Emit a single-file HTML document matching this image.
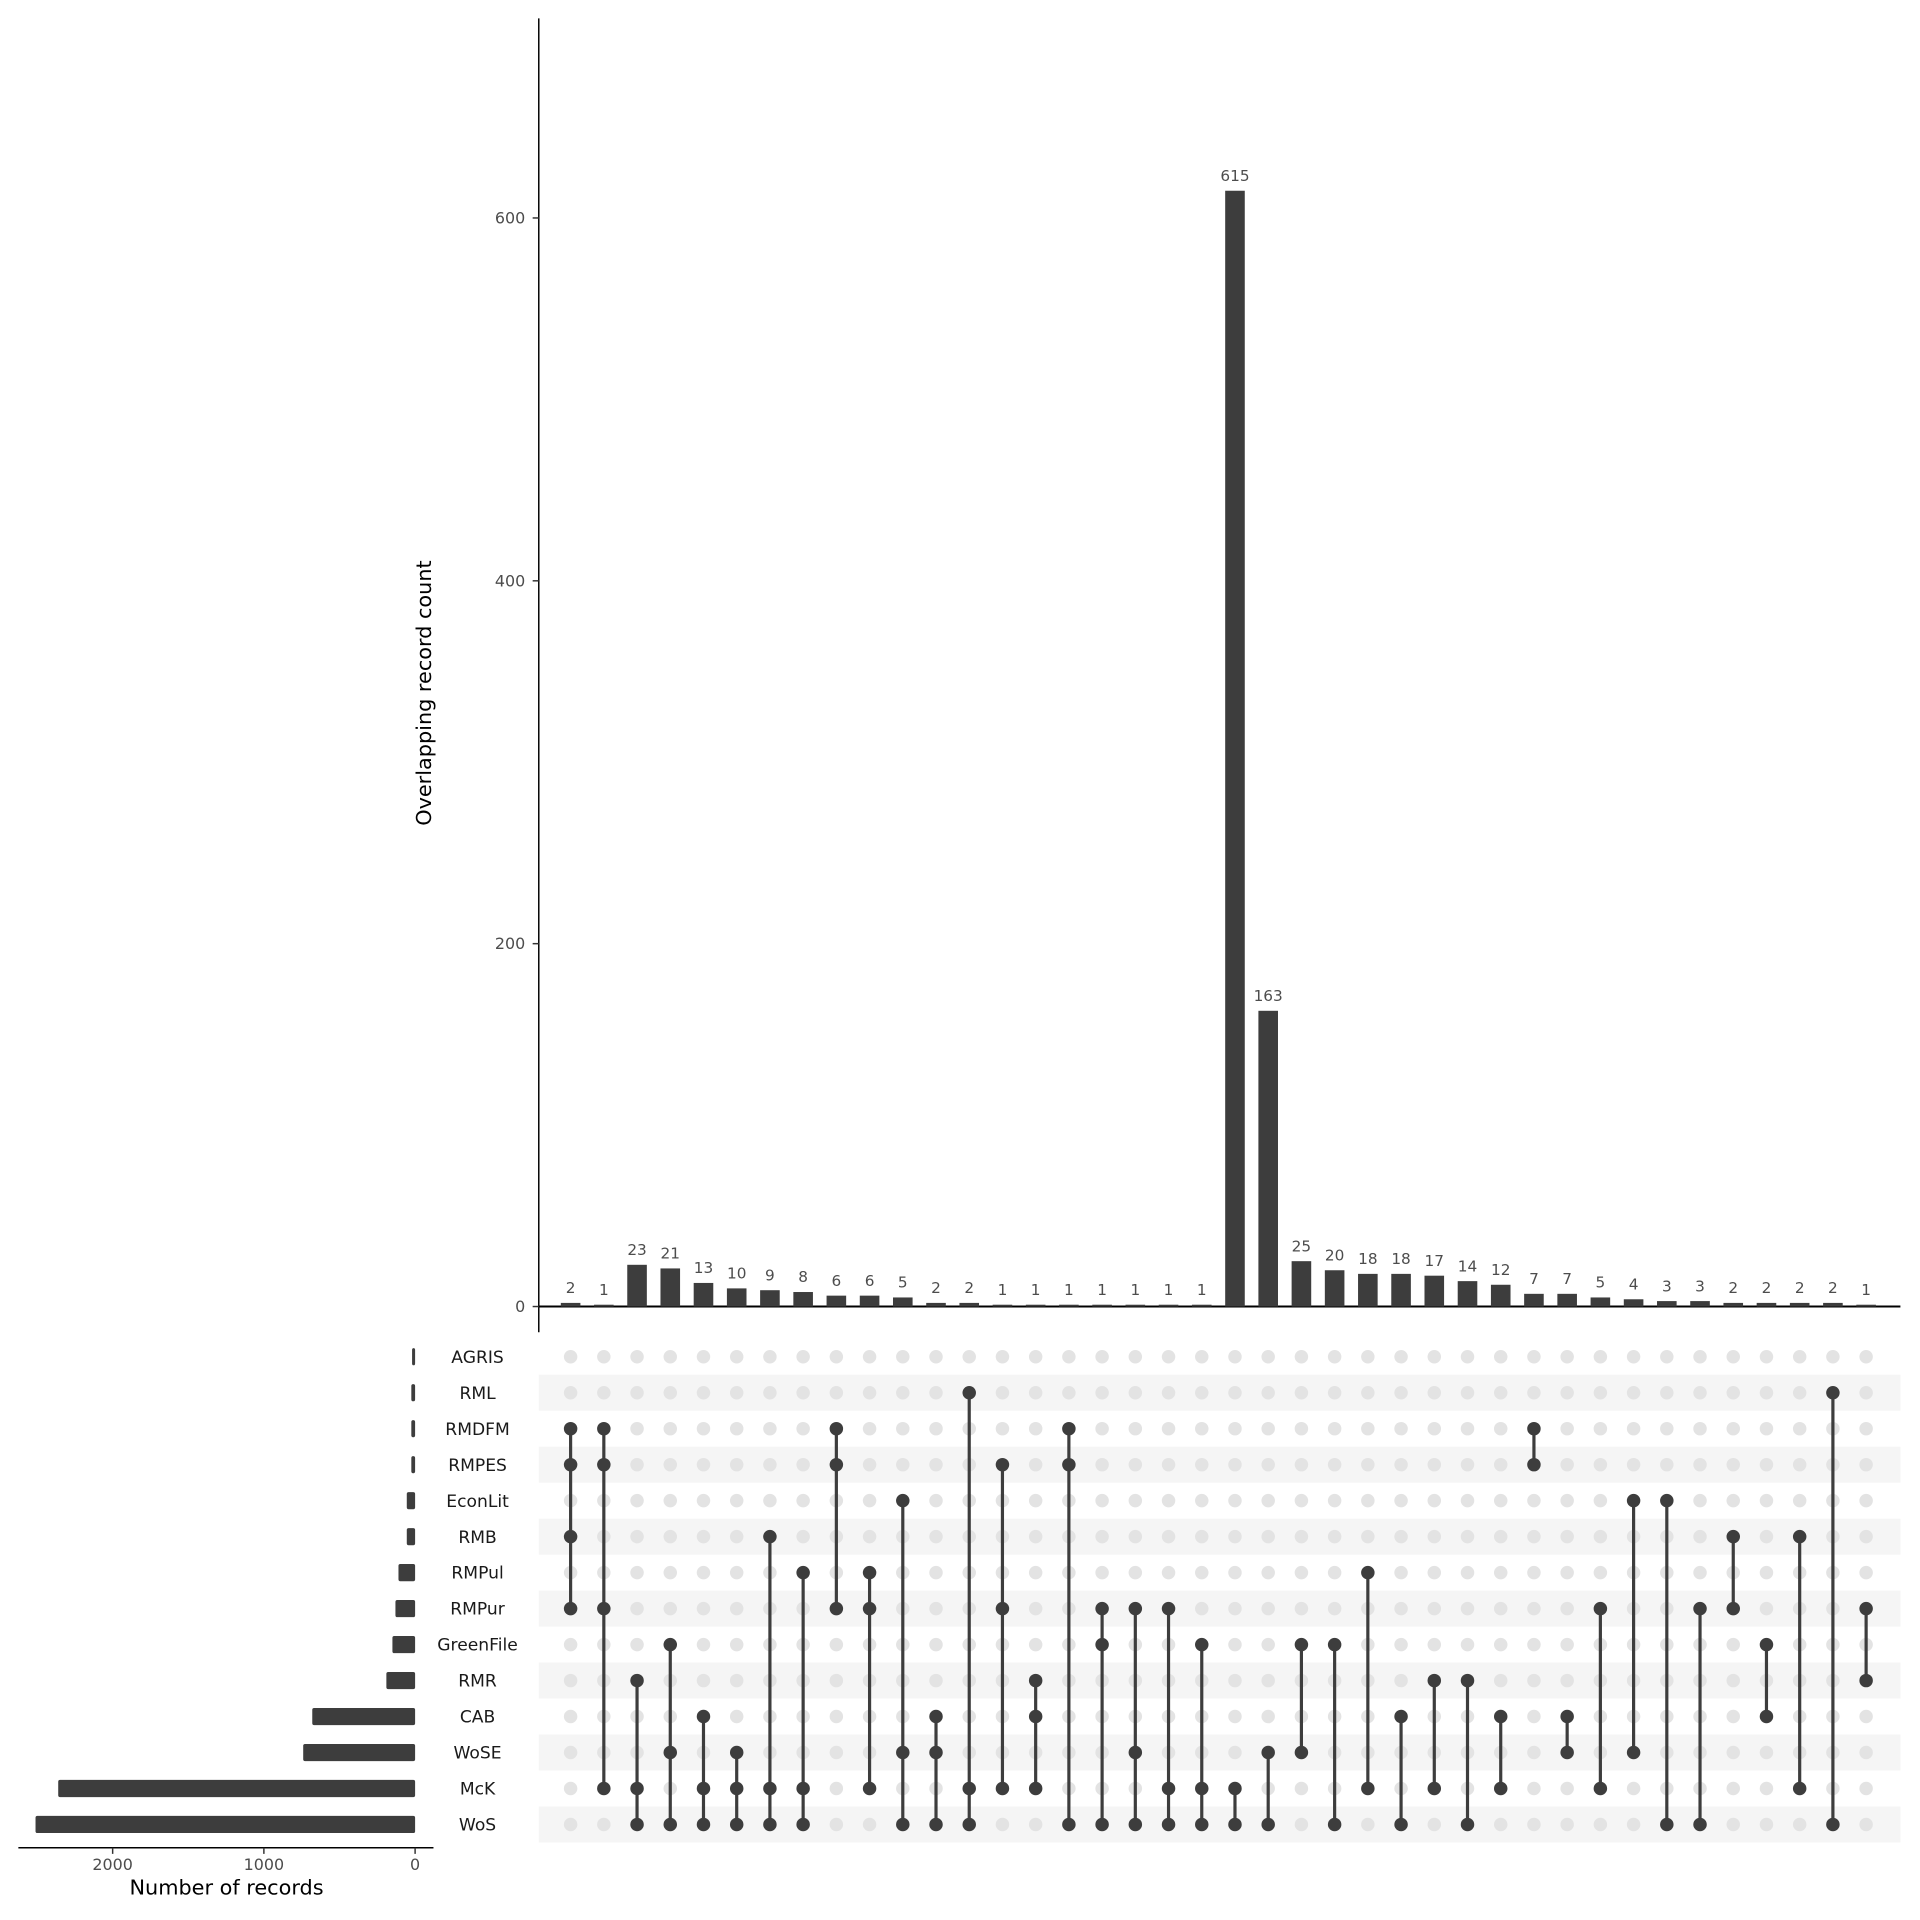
<!DOCTYPE html>
<html><head><meta charset="utf-8"><style>
html,body{margin:0;padding:0;background:#fff}
svg{display:block}
text{font-family:"DejaVu Sans","Liberation Sans",sans-serif}
</style></head><body>
<svg id="chart" width="1920" height="1920" viewBox="0 0 1568 1568" xmlns="http://www.w3.org/2000/svg"></svg>
<script>
const setNames = ["AGRIS","RML","RMDFM","RMPES","EconLit","RMB","RMPul","RMPur","GreenFile","RMR","CAB","WoSE","McK","WoS"];
const setSizes = [20,25,25,25,55,55,110,130,150,190,680,740,2360,2510];
const counts = [2,1,23,21,13,10,9,8,6,6,5,2,2,1,1,1,1,1,1,1,615,163,25,20,18,18,17,14,12,7,7,5,4,3,3,2,2,2,2,1];
const members = [[2,3,5,7],[2,3,7,12],[9,12,13],[8,11,13],[10,12,13],[11,12,13],[5,12,13],[6,12,13],[2,3,7],[6,7,12],[4,11,13],[10,11,13],[1,12,13],[3,7,12],[9,10,12],[2,3,13],[7,8,13],[7,11,13],[7,12,13],[8,12,13],[12,13],[11,13],[8,11],[8,13],[6,12],[10,13],[9,12],[9,13],[10,12],[2,3],[10,11],[7,12],[4,11],[4,13],[7,13],[5,7],[8,10],[5,12],[1,13],[7,9]];
const yTicks = [0,200,400,600];
const xTicks = [2000,1000,0];

const NS="http://www.w3.org/2000/svg";
const svg=document.getElementById('chart');
function el(t,a,p){const e=document.createElementNS(NS,t);for(const k in a)e.setAttribute(k,a[k]);(p||svg).appendChild(e);return e;}
const DARK="#3d3d3d";
const y0=1067, yScale=v=>y0-v*(1067-178)/600;
const colX=i=>466+i*(1524-466)/39;
const rowY=j=>1108+j*(1490-1108)/13;
const xL=v=>339-v*(339-92)/2000;

for(let j=0;j<setNames.length;j++){
  if(j%2===1){const r=el('rect',{x:440,y:rowY(j)-14.7,width:1112,height:29.4,fill:'#f5f5f5'});
  
  }
}
const ya=el('line',{x1:440,y1:15,x2:440,y2:1088,stroke:'#000','stroke-width':1.2});


const xa=el('line',{x1:440,y1:y0,x2:1552,y2:y0,stroke:'#000','stroke-width':1.6});


yTicks.forEach(v=>{
  const t=el('line',{x1:435,y1:yScale(v),x2:440,y2:yScale(v),stroke:'#333','stroke-width':1.2});
  
  
  const l=el('text',{x:429,y:yScale(v)+4.5,'text-anchor':'end','font-size':13,fill:'#4d4d4d'});
  l.textContent=v;
  
  
});
const yt=el('text',{x:352,y:566,'text-anchor':'middle','font-size':17,fill:'#000',transform:'rotate(-90 352 566)'});
yt.textContent='Overlapping record count';



counts.forEach((c,i)=>{
  const x=colX(i);
  const b=el('rect',{x:x-8,y:yScale(c),width:16,height:y0-yScale(c),fill:DARK});
  
  
  const l=el('text',{x:x,y:yScale(c)-8,'text-anchor':'middle','font-size':12.5,fill:'#4d4d4d'});
  l.textContent=c;
  
  
});
members.forEach((m,i)=>{
  const x=colX(i);
  for(let j=0;j<setNames.length;j++){
    if(!m.includes(j)){const d=el('circle',{cx:x,cy:rowY(j),r:5.5,fill:'#e3e3e3'});
    
    }
  }
  const mn=Math.min(...m),mx=Math.max(...m);
  const ln=el('line',{x1:x,y1:rowY(mn),x2:x,y2:rowY(mx),stroke:DARK,'stroke-width':2.6});
  
  
  m.forEach(j=>{const d=el('circle',{cx:x,cy:rowY(j),r:5.5,fill:DARK});
  
  });
});
setNames.forEach((n,j)=>{
  const l=el('text',{x:390,y:rowY(j)+5,'text-anchor':'middle','font-size':14,fill:'#1a1a1a'});
  l.textContent=n;
  
  
  const b=el('rect',{x:xL(setSizes[j]),y:rowY(j)-7,width:339-xL(setSizes[j]),height:14,rx:1.5,fill:DARK});
  
  
});
const la=el('line',{x1:15,y1:1509,x2:354,y2:1509,stroke:'#000','stroke-width':1.2});


xTicks.forEach(v=>{
  const t=el('line',{x1:xL(v),y1:1509,x2:xL(v),y2:1514,stroke:'#333','stroke-width':1.2});
  
  
  const l=el('text',{x:xL(v),y:1527,'text-anchor':'middle','font-size':13,fill:'#4d4d4d'});
  l.textContent=v;
  
  
});
const xt=el('text',{x:185,y:1547,'text-anchor':'middle','font-size':17,fill:'#000'});
xt.textContent='Number of records';


</script>
</body></html>
